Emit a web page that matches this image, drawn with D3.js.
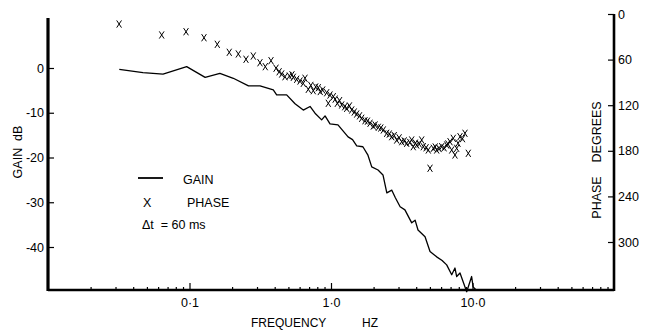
<!DOCTYPE html>
<html>
<head>
<meta charset="utf-8">
<script src="https://cdn.jsdelivr.net/npm/d3@7"></script>
<style>
  body { margin: 0; background: #fff; }
  svg { display: block; font-family: "Liberation Sans", Arial, sans-serif; }
</style>
</head>
<body>
<svg id="chart" width="645" height="333"></svg>
<script>
// gain curve (Hz, dB)
const gainFreq = [0.0319, 0.0469, 0.065, 0.0955, 0.129, 0.164, 0.204, 0.261, 0.315, 0.391, 0.413, 0.486,
  0.557, 0.637, 0.711, 0.771, 0.859, 0.908, 0.984, 1.12, 1.32, 1.42, 1.52, 1.68, 1.82, 1.94, 2.15, 2.33, 2.48, 2.69,
  2.85, 3.08, 3.33, 3.72, 3.93, 4.12, 4.62, 5.01, 5.58, 6.1, 6.57, 7.13, 7.52, 7.73, 8.16, 9.10, 9.86, 10.1, 10.6];
const gainDb = [-0.3, -1.05, -1.35, 0.3, -2.1, -1.2, -2.3, -4.0, -4.0, -4.9, -6.0, -6.0,
  -8.0, -9.4, -8.6, -10.1, -11.6, -10.7, -12.5, -12.7, -15.4, -16.0, -17.4, -17.6, -19.4, -22.1, -22.8, -23.9, -27.9, -27.3,
  -29.0, -31.0, -31.7, -34.6, -34.0, -36.2, -37.7, -41.0, -42.2, -43.0, -44.0, -46.2, -44.7, -46.6, -45.8, -50.0, -46.6, -48.9, -49.6];

// phase points (Hz, degrees lag)
const phaseFreq = [0.0318, 0.0636, 0.0945, 0.1266, 0.1572, 0.191, 0.2213, 0.2507, 0.2824, 0.3148, 0.3433,
  0.3767, 0.4087, 0.4483, 0.473, 0.5074, 0.5416, 0.5723, 0.6038, 0.637, 0.655, 0.691, 0.7497, 0.8131,
  0.8736, 0.9324, 0.957, 0.9837, 1.038, 1.108, 1.19, 1.291, 1.401, 1.519, 1.648, 1.739, 1.886, 1.99,
  2.159, 2.342, 2.475, 2.685, 2.913, 3.16, 3.428, 3.718, 3.816, 4.034, 4.375, 4.49, 4.871, 5.008, 5.284,
  5.585, 6.058, 6.574, 6.934, 7.129, 7.316, 7.52, 7.731, 8.157, 8.851, 9.339,
  0.53, 0.72, 1.07, 1.25, 1.46, 1.81, 2.25, 2.58, 3.03, 3.29, 3.6, 4.2, 5.45, 5.8, 6.3, 7.9,
  0.43, 0.78, 0.84, 1.15, 1.35, 1.59, 2.05, 2.8, 3.95, 4.7, 6.7, 8.5];
const phaseDeg = [13.2, 27.6, 23.3, 31.2, 39.9, 50.4, 52.6, 59.6, 55.3, 64.1, 69.3,
  61.4, 71.4, 78.9, 82.5, 81.6, 83.3, 85.9, 88.2, 91.2, 84.6, 99.1, 100.9, 97.0,
  100.0, 103.6, 117.5, 106.6, 108.8, 117.5, 119.7, 124.1, 126.3, 131.6, 137.2, 140.4, 143.8, 147.4,
  149.1, 152.6, 157.0, 161.4, 165.8, 168.0, 170.1, 165.8, 174.6, 172.4, 165.8, 174.6, 178.9, 203.0, 176.7,
  178.9, 174.6, 172.4, 168.0, 178.9, 163.6, 185.5, 176.7, 161.4, 157.0, 183.3,
  80.0, 94.0, 112.0, 122.0, 129.0, 141.0, 150.0, 158.0, 163.0, 167.0, 169.0, 171.0, 175.0, 177.0, 176.0, 170.0,
  76.0, 96.0, 102.0, 114.0, 121.0, 134.0, 146.0, 160.0, 170.0, 176.0, 171.0, 164.0];

const gainTicks = [0, -10, -20, -30, -40];
const phaseTicks = [0, 60, 120, 180, 240, 300];
const freqMajor = [0.1, 1, 10];
const freqMajorLabels = ["0·1", "1·0", "10·0"];

const svg = d3.select("#chart");

const x = d3.scaleLog().domain([0.01, 100]).range([48, 614]);
const yGain = d3.scaleLinear().domain([0, -40]).range([68, 247]);
const yPhase = d3.scaleLinear().domain([0, 300]).range([14, 242]);

const x0 = 48, x1 = 614, yBase = 290;

// minor frequency ticks
const freqMinor = [];
[0.01, 0.1, 1, 10].forEach(d => { for (let k = 2; k <= 9; k++) freqMinor.push(d * k); });

const minorAxis = d3.axisBottom(x).tickValues(freqMinor).tickFormat("")
  .tickSizeInner(-3).tickSizeOuter(0);
svg.append("g").attr("transform", `translate(0,${yBase})`).call(minorAxis);

const majorAxis = d3.axisBottom(x).tickValues(freqMajor)
  .tickFormat((d, i) => freqMajorLabels[i])
  .tickSizeInner(-7).tickSizeOuter(0).tickPadding(8);
svg.append("g").attr("transform", `translate(0,${yBase})`).call(majorAxis);

const gainAxis = d3.axisLeft(yGain).tickValues(gainTicks).tickFormat(d => String(d))
  .tickSizeInner(-6).tickSizeOuter(0).tickPadding(4);
svg.append("g").attr("transform", `translate(${x0},0)`).call(gainAxis);

const phaseAxis = d3.axisRight(yPhase).tickValues(phaseTicks).tickFormat(d => String(d))
  .tickSizeInner(-6).tickSizeOuter(0).tickPadding(4);
svg.append("g").attr("transform", `translate(${x1},0)`).call(phaseAxis);

svg.selectAll(".domain").remove();
svg.selectAll(".tick line").attr("stroke", "#000").attr("stroke-width", 1.2);
svg.selectAll(".tick text").attr("font-size", 12.5).attr("fill", "#000")
  .attr("font-family", "'Liberation Sans', Arial, sans-serif");

// axis frame lines
svg.append("line").attr("x1", x0).attr("x2", x0).attr("y1", 18).attr("y2", yBase + 1)
  .attr("stroke", "#000").attr("stroke-width", 3.2);
svg.append("line").attr("x1", x1).attr("x2", x1).attr("y1", 14).attr("y2", yBase + 1)
  .attr("stroke", "#000").attr("stroke-width", 2.6);
svg.append("line").attr("x1", x0).attr("x2", x1).attr("y1", yBase).attr("y2", yBase)
  .attr("stroke", "#000").attr("stroke-width", 2.4);

// gain curve
const gainData = gainFreq.map((f, i) => [f, gainDb[i]]);
svg.append("path").datum(gainData)
  .attr("fill", "none").attr("stroke", "#000").attr("stroke-width", 1.3)
  .attr("stroke-linejoin", "round")
  .attr("d", d3.line().x(d => x(d[0])).y(d => yGain(d[1])));

// phase crosses
const phaseData = phaseFreq.map((f, i) => [f, phaseDeg[i]]);
svg.append("g").selectAll("path").data(phaseData).join("path")
  .attr("transform", d => `translate(${x(d[0])},${yPhase(d[1])})`)
  .attr("d", "M-2.4,-3.6L2.4,3.6M2.4,-3.6L-2.4,3.6")
  .attr("stroke", "#000").attr("stroke-width", 1).attr("fill", "none");

// axis titles
svg.append("text").attr("transform", "translate(22,152) rotate(-90)")
  .attr("text-anchor", "middle").attr("font-size", 12.5).attr("xml:space", "preserve")
  .text("GAIN  dB");
svg.append("text").attr("transform", "translate(601,160) rotate(-90)")
  .attr("text-anchor", "middle").attr("font-size", 12.5).attr("xml:space", "preserve")
  .text("PHASE    DEGREES");
svg.append("text").attr("x", 251).attr("y", 327).attr("font-size", 12).text("FREQUENCY");
svg.append("text").attr("x", 362).attr("y", 327).attr("font-size", 12).text("HZ");

// legend
svg.append("line").attr("x1", 138).attr("x2", 163).attr("y1", 178).attr("y2", 178)
  .attr("stroke", "#000").attr("stroke-width", 1.8);
svg.append("text").attr("x", 183).attr("y", 184).attr("font-size", 12.5).text("GAIN");
svg.append("text").attr("x", 143).attr("y", 207).attr("font-size", 12.5).text("X");
svg.append("text").attr("x", 187).attr("y", 207).attr("font-size", 12.5).text("PHASE");
svg.append("text").attr("x", 142).attr("y", 229).attr("font-size", 12.5).attr("xml:space", "preserve")
  .text("Δt  = 60 ms");
</script>
</body>
</html>
